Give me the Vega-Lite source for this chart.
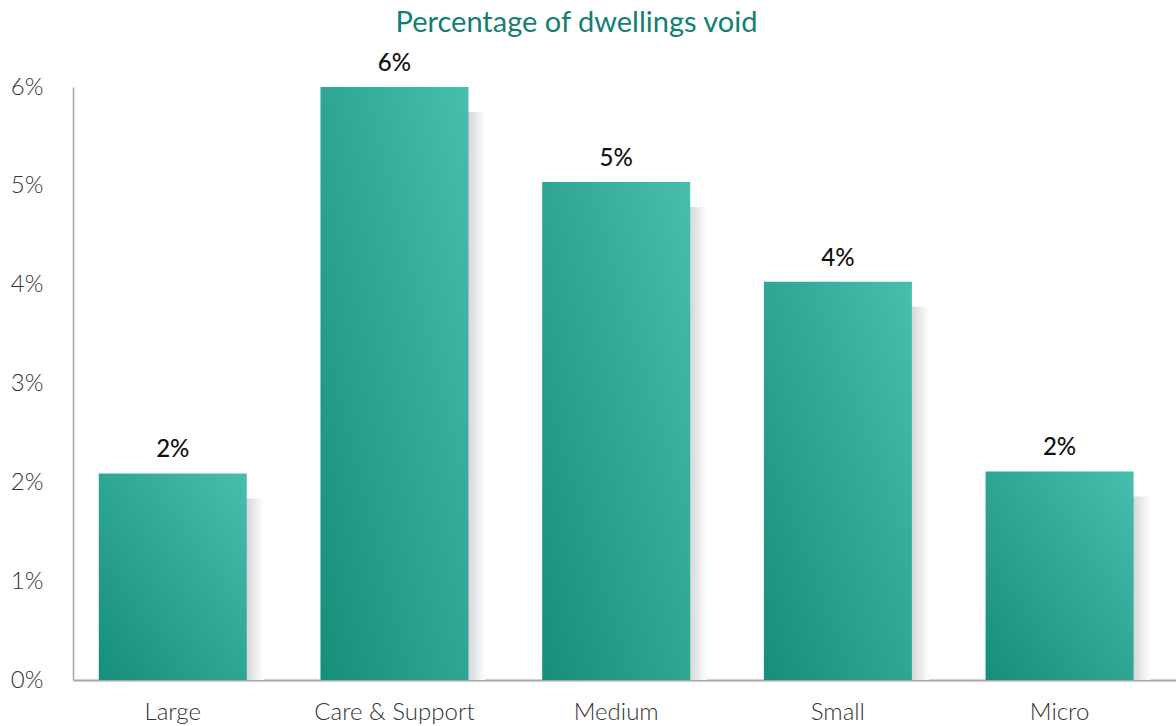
{
  "$schema": "https://vega.github.io/schema/vega-lite/v6.json",
  "width": 1103,
  "height": 593,
  "autosize": {"type": "none"},
  "padding": {"left": 73, "top": 87, "right": 0, "bottom": 46},
  "background": "white",
  "title": {
    "text": "Percentage of dwellings void",
    "font": "Lato",
    "fontSize": 29,
    "fontWeight": 400,
    "color": "#127f75",
    "anchor": "middle",
    "dx": -48,
    "offset": 14
  },
  "data": {
    "values": [
      {"category": "Large", "value": 0.0209},
      {"category": "Care & Support", "value": 0.0600},
      {"category": "Medium", "value": 0.0504},
      {"category": "Small", "value": 0.0403},
      {"category": "Micro", "value": 0.0211}
    ]
  },
  "config": {
    "view": {"stroke": null},
    "font": "Lato"
  },
  "encoding": {
    "x": {
      "field": "category",
      "type": "nominal",
      "sort": null,
      "scale": {"paddingInner": 0.3324, "paddingOuter": 0.1538, "align": 0.378},
      "axis": {
        "title": null,
        "labelAngle": 0,
        "labelFont": "Lato",
        "labelFontSize": 24,
        "labelFontWeight": 300,
        "labelColor": "#333333",
        "labelPadding": 20,
        "ticks": false,
        "domainColor": "#a6a6a6",
        "domainWidth": 2
      }
    },
    "y": {
      "field": "value",
      "type": "quantitative",
      "scale": {"domain": [0, 0.06], "nice": false},
      "axis": {
        "title": null,
        "format": ".0%",
        "values": [0, 0.01, 0.02, 0.03, 0.04, 0.05, 0.06],
        "labelOverlap": false,
        "grid": false,
        "ticks": false,
        "labelFont": "Lato",
        "labelFontSize": 24,
        "labelFontWeight": 300,
        "labelColor": "#333333",
        "labelPadding": 30,
        "domainColor": "#a6a6a6",
        "domainWidth": 1.5
      }
    }
  },
  "layer": [
    {
      "mark": {
        "type": "bar",
        "clip": true,
        "xOffset": 17,
        "yOffset": 25,
        "y2Offset": 0,
        "color": {
          "gradient": "linear",
          "x1": 0, "y1": 0, "x2": 1, "y2": 0,
          "stops": [
            {"offset": 0, "color": "#d3d4d7"},
            {"offset": 0.885, "color": "#d6d7da"},
            {"offset": 1, "color": "#ffffff"}
          ]
        }
      }
    },
    {
      "mark": {
        "type": "bar",
        "color": {
          "gradient": "linear",
          "x1": 0, "y1": 1, "x2": 1, "y2": 0,
          "stops": [
            {"offset": 0, "color": "#158e7a"},
            {"offset": 1, "color": "#48beae"}
          ]
        }
      }
    },
    {
      "mark": {
        "type": "text",
        "baseline": "alphabetic",
        "dy": -16,
        "font": "Lato",
        "fontSize": 24,
        "fontWeight": 500,
        "color": "#111111"
      },
      "encoding": {
        "text": {"field": "value", "type": "quantitative", "format": ".0%"}
      }
    }
  ]
}
